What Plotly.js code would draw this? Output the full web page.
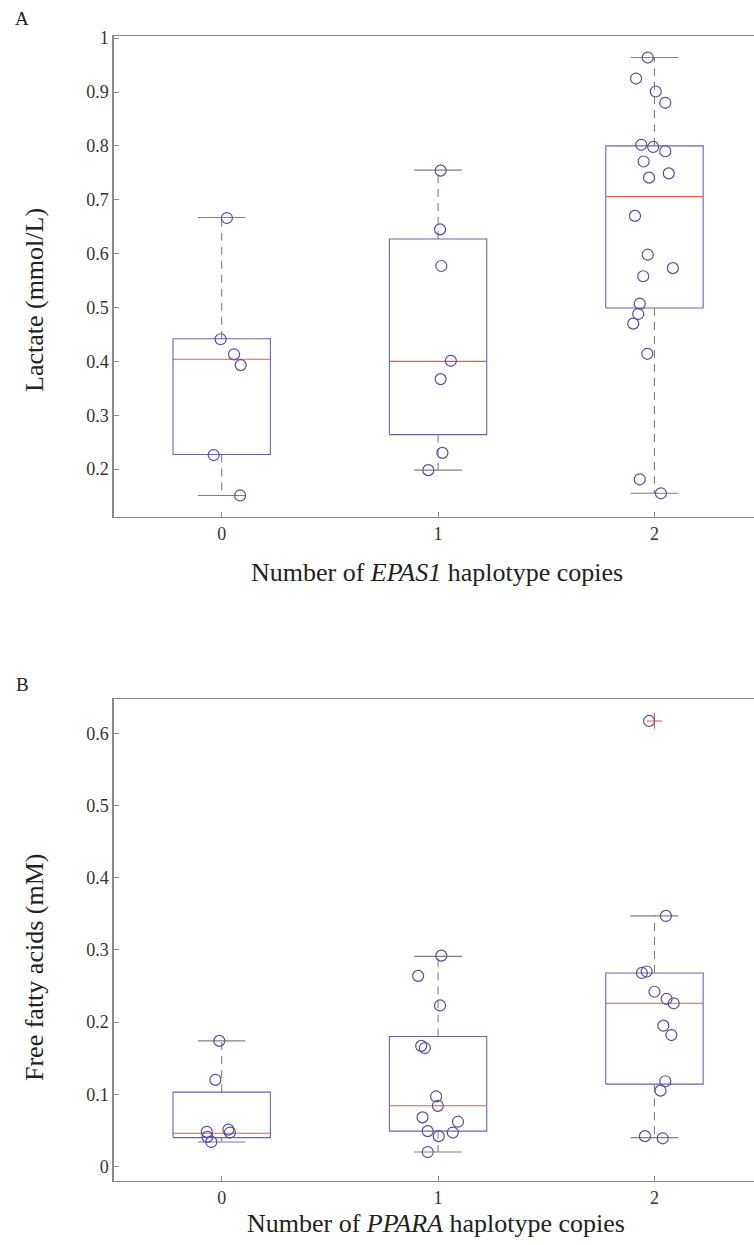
<!DOCTYPE html>
<html><head><meta charset="utf-8">
<script src="https://cdn.plot.ly/plotly-3.0.1.min.js"></script>
<style>html,body{margin:0;padding:0;background:#fff;overflow:hidden}</style>
</head><body><div id="chart" style="width:754px;height:1245px"></div>
<script>
const categories = [0, 1, 2];
const tickLabels = ['0', '1', '2'];

// Panel A: lactate (mmol/L) by number of EPAS1 haplotype copies
const lactateValues = [
  [0.666, 0.441, 0.413, 0.393, 0.226, 0.151],
  [0.754, 0.645, 0.577, 0.401, 0.367, 0.230, 0.198],
  [0.964, 0.925, 0.901, 0.880, 0.802, 0.798, 0.790, 0.771, 0.749, 0.741, 0.670, 0.598, 0.573, 0.558, 0.507, 0.488, 0.470, 0.414, 0.181, 0.155]
];
const lactateJitter = [
  [0.024, -0.005, 0.057, 0.088, -0.037, 0.085],
  [0.012, 0.009, 0.015, 0.059, 0.012, 0.020, -0.045],
  [-0.031, -0.085, 0.006, 0.050, -0.061, -0.006, 0.050, -0.050, 0.066, -0.025, -0.090, -0.031, 0.085, -0.052, -0.068, -0.075, -0.098, -0.033, -0.068, 0.030]
];
const lactateQ1 = [0.227, 0.264, 0.499];
const lactateMedian = [0.404, 0.400, 0.706];
const lactateQ3 = [0.442, 0.627, 0.800];
const lactateLow = [0.151, 0.198, 0.155];
const lactateHigh = [0.667, 0.755, 0.964];
const lactateOutlierX = [];
const lactateOutlierY = [];

// Panel B: free fatty acids (mM) by number of PPARA haplotype copies
const ffaValues = [
  [0.174, 0.120, 0.048, 0.041, 0.034, 0.051, 0.047],
  [0.292, 0.264, 0.223, 0.167, 0.164, 0.097, 0.084, 0.068, 0.062, 0.049, 0.047, 0.042, 0.020],
  [0.617, 0.347, 0.270, 0.268, 0.242, 0.232, 0.226, 0.195, 0.182, 0.118, 0.105, 0.042, 0.039]
];
const ffaJitter = [
  [-0.011, -0.029, -0.069, -0.066, -0.048, 0.031, 0.038],
  [0.015, -0.092, 0.009, -0.078, -0.061, -0.009, -0.001, -0.072, 0.092, -0.048, 0.068, 0.003, -0.048],
  [-0.025, 0.053, -0.036, -0.058, 0.000, 0.056, 0.089, 0.041, 0.078, 0.050, 0.028, -0.044, 0.038]
];
const ffaQ1 = [0.040, 0.049, 0.114];
const ffaMedian = [0.046, 0.084, 0.226];
const ffaQ3 = [0.103, 0.180, 0.268];
const ffaLow = [0.034, 0.020, 0.040];
const ffaHigh = [0.174, 0.291, 0.347];
const ffaOutlierX = [2];
const ffaOutlierY = [0.617];

const BOX_HALF = 0.225, CAP_HALF = 0.11;
const BOX_COLOR = '#6e62ad', MED_COLOR = '#f0564e', WHISK_COLOR = '#808080', PT_COLOR = '#5b4b9f';

function panelTraces(xa, ya, q1, med, q3, lo, hi, vals, jit, ox, oy) {
  const traces = [];
  const line = (x, y, color, dash, w) => traces.push({
    type: 'scatter', mode: 'lines', x: x, y: y, xaxis: xa, yaxis: ya,
    line: {color: color, width: w || 1.1, dash: dash || 'solid'}, hoverinfo: 'skip', showlegend: false
  });
  categories.forEach((c, i) => {
    line([c, c], [q3[i], hi[i]], WHISK_COLOR, '8px,6px', 1.1);
    line([c, c], [q1[i], lo[i]], WHISK_COLOR, '8px,6px', 1.1);
    line([c - CAP_HALF, c + CAP_HALF], [hi[i], hi[i]], WHISK_COLOR, 'solid', 1.1);
    line([c - CAP_HALF, c + CAP_HALF], [lo[i], lo[i]], WHISK_COLOR, 'solid', 1.1);
    line([c - BOX_HALF, c + BOX_HALF, c + BOX_HALF, c - BOX_HALF, c - BOX_HALF],
         [q1[i], q1[i], q3[i], q3[i], q1[i]], BOX_COLOR, 'solid', 1.1);
    line([c - BOX_HALF, c + BOX_HALF], [med[i], med[i]], MED_COLOR, 'solid', 1.1);
  });
  if (ox.length) {
    traces.push({type: 'scatter', mode: 'markers', x: ox, y: oy, xaxis: xa, yaxis: ya,
      marker: {symbol: 'cross-thin', size: 11, line: {color: MED_COLOR, width: 1.1}},
      hoverinfo: 'skip', showlegend: false});
  }
  const px = [], py = [];
  categories.forEach((c, i) => {
    vals[i].forEach((v, j) => { px.push(c + jit[i][j]); py.push(v); });
  });
  traces.push({type: 'scatter', mode: 'markers', x: px, y: py, xaxis: xa, yaxis: ya,
    marker: {symbol: 'circle-open', size: 11, color: PT_COLOR, line: {color: PT_COLOR, width: 1.2}},
    showlegend: false});
  return traces;
}

const data = [].concat(
  panelTraces('x', 'y', lactateQ1, lactateMedian, lactateQ3, lactateLow, lactateHigh, lactateValues, lactateJitter, lactateOutlierX, lactateOutlierY),
  panelTraces('x2', 'y2', ffaQ1, ffaMedian, ffaQ3, ffaLow, ffaHigh, ffaValues, ffaJitter, ffaOutlierX, ffaOutlierY)
);

const W = 754, H = 1245;
const SERIF = 'Liberation Serif';
const tickFont = {family: SERIF, size: 18, color: '#333333'};
const titleFont = {family: SERIF, size: 26, color: '#222222'};
const xBase = {
  range: [-0.5, 2.46], tickvals: categories, ticktext: tickLabels, ticks: 'inside', ticklen: 5,
  tickcolor: '#8a8a8a', showline: true, mirror: true, linecolor: '#8a8a8a', linewidth: 1.2,
  showgrid: false, zeroline: false, tickfont: tickFont, fixedrange: true
};
const yBase = {
  ticks: 'inside', ticklen: 5, tickcolor: '#8a8a8a', showline: true, linecolor: '#8a8a8a', linewidth: 1.2,
  showgrid: false, zeroline: false, tickfont: tickFont, dtick: 0.1, fixedrange: true
};
const dom = (top, bottom) => [1 - bottom / H, 1 - top / H];
const xDom = [113.5 / W, 1];
const ann = (text, xPx, yPx, font, angle) => ({
  text: text, x: xPx / W, y: 1 - yPx / H, xref: 'paper', yref: 'paper',
  xanchor: 'center', yanchor: 'middle', showarrow: false, font: font, textangle: angle || 0
});

const layout = {
  width: W, height: H, margin: {l: 0, r: 0, t: 0, b: 0},
  paper_bgcolor: '#ffffff', plot_bgcolor: '#ffffff', showlegend: false,
  xaxis: Object.assign({}, xBase, {domain: xDom, anchor: 'y'}),
  yaxis: Object.assign({}, yBase, {domain: dom(36, 517), anchor: 'x', range: [0.111, 1.004], tick0: 0.2}),
  xaxis2: Object.assign({}, xBase, {domain: xDom, anchor: 'y2'}),
  yaxis2: Object.assign({}, yBase, {domain: dom(699.3, 1180.7), anchor: 'x2', range: [-0.0197, 0.647], tick0: 0}),
  annotations: [
    ann('A', 22, 19, {family: SERIF, size: 19, color: '#222'}),
    ann('B', 22, 684, {family: SERIF, size: 19, color: '#222'}),
    ann('Lactate (mmol/L)', 34, 300, titleFont, -90),
    ann('Free fatty acids (mM)', 34, 968, titleFont, -90),
    ann('Number of <i>EPAS1</i> haplotype copies', 437, 572, titleFont),
    ann('Number of <i>PPARA</i> haplotype copies', 436, 1223, titleFont)
  ]
};

Plotly.newPlot('chart', data, layout, {displayModeBar: false, staticPlot: true});
</script>
</body></html>
